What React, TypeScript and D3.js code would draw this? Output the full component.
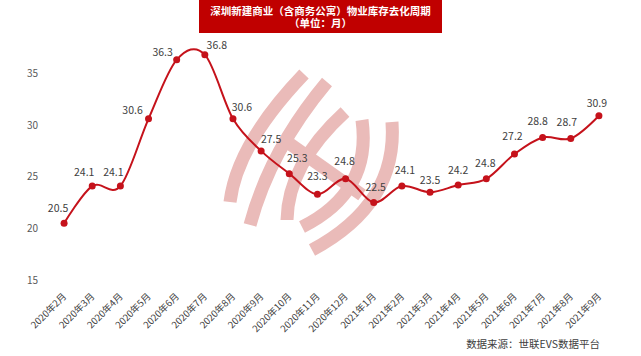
import React from "react";
import * as d3 from "d3";

const categories = [
  "2020年2月", "2020年3月", "2020年4月", "2020年5月", "2020年6月", "2020年7月",
  "2020年8月", "2020年9月", "2020年10月", "2020年11月", "2020年12月",
  "2021年1月", "2021年2月", "2021年3月", "2021年4月", "2021年5月",
  "2021年6月", "2021年7月", "2021年8月", "2021年9月",
];
const values = [20.5, 24.1, 24.1, 30.6, 36.3, 36.8, 30.6, 27.5, 25.3, 23.3, 24.8, 22.5, 24.1, 23.5, 24.2, 24.8, 27.2, 28.8, 28.7, 30.9];
const yTicks = [15, 20, 25, 30, 35];
const titleLines = ["深圳新建商业（含商务公寓）物业库存去化周期", "（单位：月）"];
const sourceText = "数据来源：世联EVS数据平台";

// label placement offsets (layout only)
const labelDx = [-6, -8, -7, -16, -14, 12, 9, 10, 8, 0, -1, 2, 3, 0, 0, -1, -2, -5, -4, -2];
const labelDy = [-15, -14, -14, -8, -8, -9, -11, -12, -15, -18, -17, -15, -16, -12, -15, -15, -18, -16, -16, -12];

const W = 641;
const H = 356;
const RED = "#C00000";
const LINE = "#C5121B";
const WM = "#EABBB9";
const FONT = "'Noto Sans CJK SC', 'Noto Sans', sans-serif";

export default function App() {
  const x = d3.scaleBand<string>().domain(categories).range([50, 613]);
  const cx = (c: string) => (x(c) as number) + x.bandwidth() / 2;
  const y = d3.scaleLinear().domain([15, 35]).range([280.2, 73.3]);

  const pts: [number, number][] = values.map((v, i) => [cx(categories[i]), y(v)]);
  const line = d3.line<[number, number]>().curve(d3.curveCardinal.tension(0))(pts) || "";

  // watermark logo (decorative)
  const bands = [
    "M304,74 Q237,144 230,202",
    "M327,82 Q270,150 250,225",
    "M345,112 Q288,164 287,220",
    "M362,120 Q372,192 302,227",
    "M392,122 Q398,204 312,250",
    "M290,144 L362,195",
  ];

  return (
    <svg width={W} height={H} style={{ position: "absolute", left: 0, top: 0, background: "#fff" }} fontFamily={FONT}>
      <rect x={0} y={0} width={W} height={H} fill="#fff" />
      <g fill="none" stroke={WM} strokeWidth={13}>
        {bands.map((d, i) => (
          <path key={i} d={d} />
        ))}
      </g>
      <rect x={199} y={0} width={243} height={33} fill={RED} />
      {titleLines.map((t, i) => (
        <text key={i} x={320.5} y={14.5 + i * 12.5} textAnchor="middle" fill="#fff" fontSize={10.5} fontWeight="bold">
          {t}
        </text>
      ))}
      {yTicks.map((t) => (
        <text key={t} x={38} y={y(t)} dy="0.35em" textAnchor="end" fontSize={10} fill="#595959">
          {t}
        </text>
      ))}
      {categories.map((c) => (
        <text
          key={c}
          transform={`translate(${cx(c) + 3},${297}) rotate(-45)`}
          textAnchor="end"
          fontSize={9.5}
          fill="#404040"
        >
          {c}
        </text>
      ))}
      <path d={line} fill="none" stroke={LINE} strokeWidth={2} />
      {pts.map((p, i) => (
        <circle key={i} cx={p[0]} cy={p[1]} r={3.5} fill={LINE} />
      ))}
      {pts.map((p, i) => (
        <text
          key={i}
          x={p[0] + labelDx[i]}
          y={p[1] + labelDy[i]}
          dy="0.35em"
          textAnchor="middle"
          fontSize={10.5}
          fill="#404040"
        >
          {values[i].toFixed(1)}
        </text>
      ))}
      <text x={600} y={344} dy="0.35em" textAnchor="end" fontSize={10.5} fill="#404040">
        {sourceText}
      </text>
    </svg>
  );
}
